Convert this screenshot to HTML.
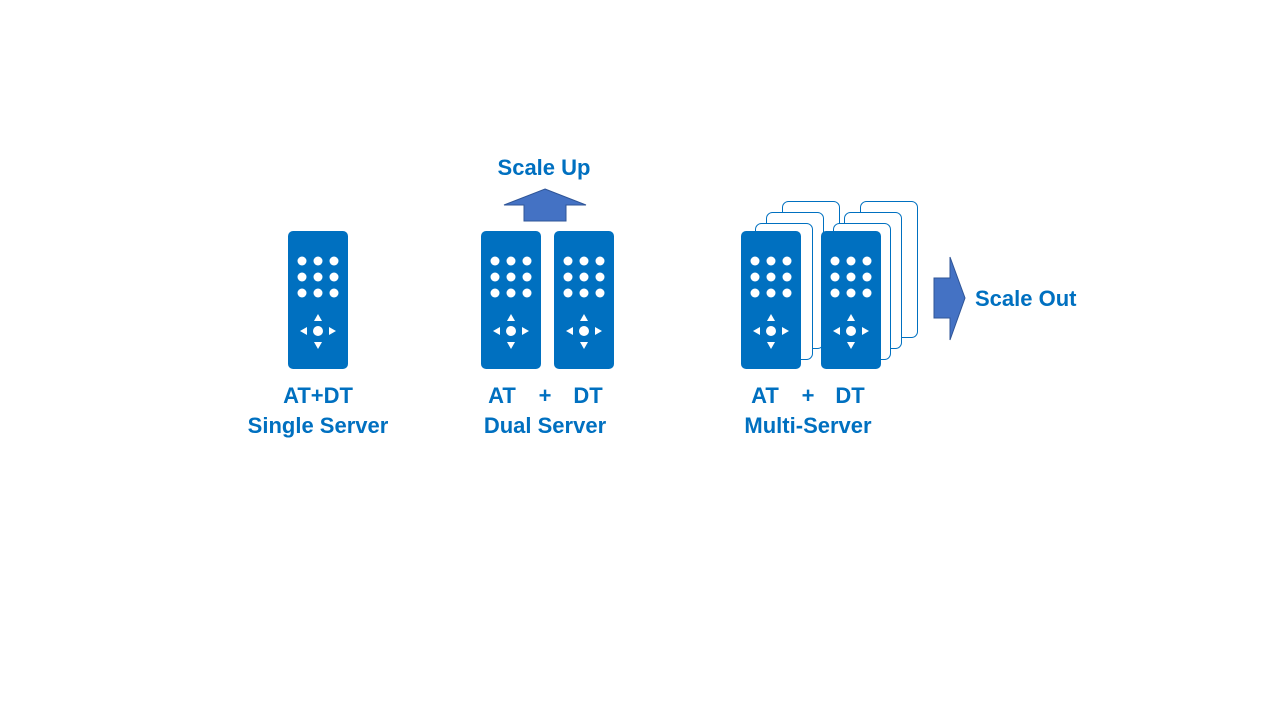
<!DOCTYPE html>
<html><head><meta charset="utf-8"><style>
html,body{margin:0;padding:0;background:#fff;}
svg{display:block}
text{font-family:"Liberation Sans",sans-serif;font-weight:bold;font-size:22px;fill:#0070c0}
</style></head><body>
<svg width="1280" height="720" viewBox="0 0 1280 720" xmlns="http://www.w3.org/2000/svg">
<defs>
<g id="srv">
<rect x="0" y="0" width="60" height="138" rx="5" fill="#0070c0"/>
<g fill="#fff">
<circle cx="14" cy="30" r="4.5"/><circle cx="30" cy="30" r="4.5"/><circle cx="46" cy="30" r="4.5"/>
<circle cx="14" cy="46" r="4.5"/><circle cx="30" cy="46" r="4.5"/><circle cx="46" cy="46" r="4.5"/>
<circle cx="14" cy="62" r="4.5"/><circle cx="30" cy="62" r="4.5"/><circle cx="46" cy="62" r="4.5"/>
<circle cx="30" cy="100" r="5"/>
<polygon points="30,83 26,90 34,90"/>
<polygon points="30,118 26,111 34,111"/>
<polygon points="12,100 19,96 19,104"/>
<polygon points="48,100 41,96 41,104"/>
</g>
</g>
<rect id="frm" x="0" y="0" width="57" height="136" rx="6" fill="#fff" stroke="#0070c0" stroke-width="1"/>
</defs>

<!-- Single -->
<use href="#srv" x="288" y="231"/>
<text x="318" y="403" text-anchor="middle">AT+DT</text>
<text x="318" y="433" text-anchor="middle">Single Server</text>

<!-- Dual -->
<use href="#srv" x="481" y="231"/>
<use href="#srv" x="554" y="231"/>
<polygon points="545,189 586,205 566,205 566,221 524,221 524,205 504,205" fill="#4472c4" stroke="#2f5597" stroke-width="1"/>
<text x="544" y="175" text-anchor="middle">Scale Up</text>
<text x="502" y="403" text-anchor="middle">AT</text>
<text x="545" y="403" text-anchor="middle">+</text>
<text x="588" y="403" text-anchor="middle">DT</text>
<text x="545" y="433" text-anchor="middle">Dual Server</text>

<!-- Multi -->
<use href="#frm" x="782.5" y="201.5"/>
<use href="#frm" x="766.5" y="212.5"/>
<use href="#frm" x="755.5" y="223.5"/>
<use href="#srv" x="741" y="231"/>
<use href="#frm" x="860.5" y="201.5"/>
<use href="#frm" x="844.5" y="212.5"/>
<use href="#frm" x="833.5" y="223.5"/>
<use href="#srv" x="821" y="231"/>
<polygon points="934,278 950,278 950,257 965,298 950,340 950,318 934,318" fill="#4472c4" stroke="#2f5597" stroke-width="1"/>
<text x="975" y="306">Scale Out</text>
<text x="765" y="403" text-anchor="middle">AT</text>
<text x="808" y="403" text-anchor="middle">+</text>
<text x="850" y="403" text-anchor="middle">DT</text>
<text x="808" y="433" text-anchor="middle">Multi-Server</text>
</svg>
</body></html>
